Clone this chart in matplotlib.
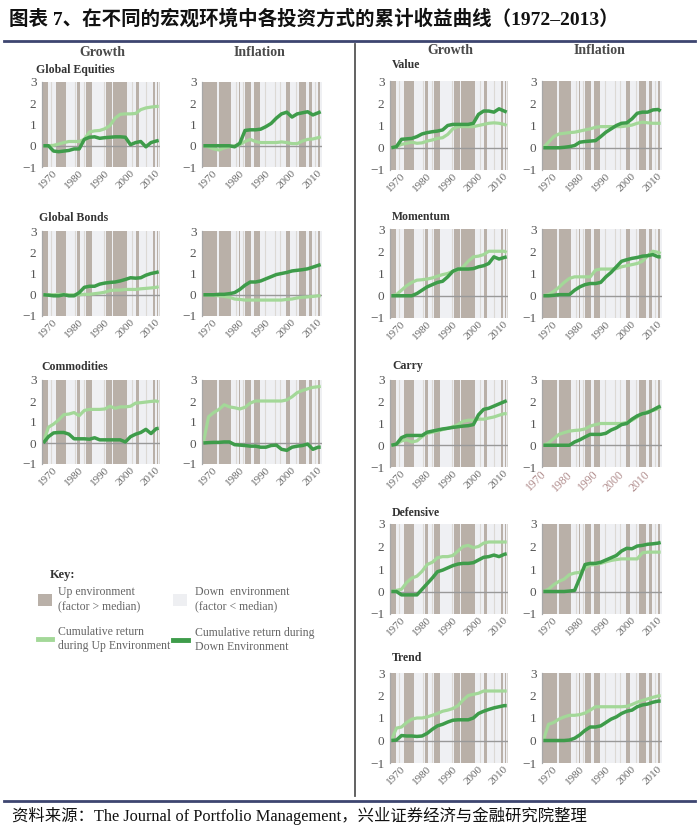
import matplotlib
matplotlib.use("Agg")
import matplotlib.pyplot as plt
from matplotlib.lines import Line2D
from matplotlib.patches import Rectangle

# ---------------- data ----------------
YEARS = [1968, 1970, 1972, 1974, 1976, 1978, 1980, 1982, 1984, 1986, 1988, 1990,
         1992, 1994, 1996, 1998, 2000, 2002, 2004, 2006, 2008, 2010, 2012, 2013]
XTICKS = [1970, 1980, 1990, 2000, 2010]
YTICKS = [-1, 0, 1, 2, 3]
YTICK_LABELS = ["\u22121", "0", "1", "2", "3"]

GROWTH_UP_PERIODS = [(1967.5, 1969.7), (1972.8, 1976.8), (1981.0, 1982.4), (1984.5, 1987.1),
                     (1992.4, 1994.7), (1995.3, 2000.5), (2004.0, 2005.4), (2010.9, 2011.6),
                     (2012.3, 2012.9)]
GROWTH_THIN = [1971.2, 1980.3, 1983.8, 1991.6, 2002.6, 2008.2, 2013.2]
INFLATION_UP_PERIODS = [(1967.5, 1973.2), (1973.9, 1978.7), (1981.5, 1982.1), (1984.0, 1986.2),
                        (1987.3, 1989.9), (1999.7, 2001.3), (2004.7, 2007.3), (2008.6, 2009.5),
                        (2011.9, 2012.8)]
INFLATION_THIN = [1980.5, 1983.2, 1991.5, 1995.5, 1997.5, 2003.5, 2010.7]

# Global Equities
EQ_G_UP = [0, 0, 0.02, 0.08, 0.15, 0.2, 0.2, 0.2, 0.3, 0.65, 0.7, 0.72, 0.8, 0.95, 1.3, 1.48, 1.5, 1.5, 1.52, 1.7, 1.78, 1.82, 1.85, 1.85]
EQ_G_DOWN = [0, 0, -0.25, -0.28, -0.25, -0.22, -0.15, -0.15, 0.3, 0.4, 0.42, 0.35, 0.38, 0.4, 0.42, 0.42, 0.4, 0.05, 0.15, 0.2, -0.05, 0.15, 0.22, 0.25]
EQ_I_UP = [0, -0.05, -0.15, -0.2, -0.1, -0.05, 0, 0.05, 0.2, 0.3, 0.2, 0.15, 0.15, 0.15, 0.15, 0.18, 0.15, 0.1, 0.1, 0.22, 0.3, 0.32, 0.38, 0.42]
EQ_I_DOWN = [0, 0, 0, 0, 0, 0, -0.05, 0.12, 0.72, 0.75, 0.75, 0.78, 0.9, 1.05, 1.3, 1.5, 1.58, 1.35, 1.5, 1.55, 1.6, 1.45, 1.55, 1.6]
# Global Bonds
BD_G_UP = [0, 0, 0, 0.02, 0.02, 0, 0, 0, 0.02, 0.02, 0.05, 0.08, 0.12, 0.2, 0.22, 0.22, 0.25, 0.25, 0.25, 0.28, 0.3, 0.32, 0.35, 0.38]
BD_G_DOWN = [0, -0.02, -0.05, -0.05, 0, -0.05, -0.05, 0.1, 0.35, 0.4, 0.4, 0.5, 0.55, 0.58, 0.6, 0.65, 0.72, 0.8, 0.78, 0.8, 0.92, 1.0, 1.05, 1.08]
BD_I_UP = [0, -0.02, -0.03, -0.05, -0.08, -0.12, -0.2, -0.22, -0.25, -0.25, -0.25, -0.25, -0.25, -0.25, -0.25, -0.25, -0.22, -0.2, -0.15, -0.12, -0.1, -0.08, -0.05, -0.05]
BD_I_DOWN = [0, 0, 0, 0.02, 0.02, 0.05, 0.1, 0.25, 0.45, 0.6, 0.6, 0.65, 0.75, 0.85, 0.95, 1.0, 1.05, 1.12, 1.15, 1.18, 1.22, 1.3, 1.38, 1.42]
# Commodities
CM_G_UP = [0, 0.75, 0.9, 1.1, 1.35, 1.38, 1.45, 1.3, 1.55, 1.6, 1.6, 1.6, 1.62, 1.75, 1.65, 1.72, 1.72, 1.75, 1.9, 1.92, 1.95, 1.98, 2.0, 1.95]
CM_G_DOWN = [0, 0.3, 0.48, 0.5, 0.5, 0.42, 0.2, 0.2, 0.2, 0.18, 0.25, 0.15, 0.15, 0.15, 0.15, 0.15, 0.05, 0.3, 0.42, 0.5, 0.65, 0.45, 0.68, 0.7]
CM_I_UP = [0, 1.25, 1.45, 1.6, 1.82, 1.72, 1.68, 1.62, 1.7, 1.9, 2.0, 2.0, 2.0, 2.0, 2.0, 2.0, 2.05, 2.2, 2.4, 2.5, 2.58, 2.65, 2.68, 2.7]
CM_I_DOWN = [0, 0.02, 0.03, 0.03, 0.05, 0.05, -0.08, -0.1, -0.12, -0.15, -0.15, -0.2, -0.2, -0.12, -0.1, -0.3, -0.35, -0.2, -0.15, -0.12, -0.05, -0.3, -0.2, -0.2]
# Value
VA_G_UP = [0, 0.05, 0.15, 0.2, 0.25, 0.2, 0.22, 0.3, 0.35, 0.42, 0.45, 0.6, 0.85, 0.95, 0.95, 0.95, 0.95, 1.0, 1.05, 1.1, 1.12, 1.1, 1.05, 1.0]
VA_G_DOWN = [0, 0.05, 0.38, 0.4, 0.42, 0.5, 0.62, 0.68, 0.72, 0.75, 0.8, 1.0, 1.05, 1.05, 1.05, 1.05, 1.1, 1.5, 1.65, 1.65, 1.6, 1.75, 1.65, 1.6]
VA_I_UP = [0, 0.25, 0.5, 0.62, 0.65, 0.68, 0.7, 0.75, 0.8, 0.85, 0.92, 0.95, 0.95, 0.95, 0.95, 0.95, 0.98, 1.02, 1.1, 1.15, 1.12, 1.1, 1.1, 1.1]
VA_I_DOWN = [0, 0, 0, 0, 0.02, 0.05, 0.1, 0.25, 0.28, 0.3, 0.32, 0.5, 0.7, 0.85, 1.0, 1.1, 1.12, 1.3, 1.55, 1.6, 1.6, 1.7, 1.72, 1.65]
# Momentum
MO_G_UP = [0, 0.05, 0.25, 0.45, 0.6, 0.7, 0.72, 0.75, 0.8, 0.88, 0.95, 1.0, 1.1, 1.15, 1.3, 1.55, 1.75, 1.78, 1.85, 2.0, 2.0, 2.0, 2.0, 1.95]
MO_G_DOWN = [0, 0, 0, 0, 0, 0.1, 0.25, 0.4, 0.5, 0.6, 0.65, 0.85, 1.1, 1.2, 1.2, 1.2, 1.22, 1.3, 1.35, 1.45, 1.75, 1.65, 1.72, 1.75]
MO_I_UP = [0, 0.05, 0.2, 0.38, 0.6, 0.78, 0.85, 0.85, 0.85, 0.85, 1.15, 1.2, 1.2, 1.2, 1.22, 1.3, 1.35, 1.4, 1.45, 1.55, 1.8, 2.0, 1.95, 1.9]
MO_I_DOWN = [0, 0, 0.02, 0.05, 0.05, 0.05, 0.25, 0.4, 0.5, 0.55, 0.55, 0.6, 0.85, 1.05, 1.3, 1.55, 1.62, 1.68, 1.72, 1.78, 1.8, 1.85, 1.75, 1.75]
# Carry
CA_G_UP = [0, 0.05, 0.2, 0.25, 0.15, 0.2, 0.4, 0.55, 0.6, 0.65, 0.72, 0.78, 0.85, 0.95, 1.1, 1.15, 1.15, 1.2, 1.2, 1.25, 1.3, 1.38, 1.45, 1.45]
CA_G_DOWN = [0, 0.05, 0.35, 0.45, 0.45, 0.45, 0.45, 0.6, 0.65, 0.7, 0.75, 0.78, 0.82, 0.85, 0.88, 0.9, 0.95, 1.4, 1.65, 1.7, 1.8, 1.9, 2.0, 2.05]
CA_I_UP = [0, 0.1, 0.3, 0.5, 0.58, 0.65, 0.68, 0.7, 0.75, 0.88, 0.95, 1.0, 1.0, 1.0, 1.0, 1.0, 1.05, 1.15, 1.3, 1.45, 1.55, 1.6, 1.68, 1.72]
CA_I_DOWN = [0, 0, 0, 0, 0, 0, 0.15, 0.25, 0.38, 0.5, 0.5, 0.5, 0.55, 0.7, 0.8, 0.95, 1.0, 1.2, 1.35, 1.45, 1.5, 1.62, 1.75, 1.8]
# Defensive
DE_G_UP = [0, 0.05, 0.1, 0.4, 0.6, 0.68, 0.9, 1.2, 1.3, 1.5, 1.55, 1.55, 1.6, 1.8, 2.0, 2.05, 1.95, 2.0, 2.15, 2.2, 2.2, 2.2, 2.2, 2.2]
DE_G_DOWN = [0, 0, -0.15, -0.15, -0.15, -0.15, 0.1, 0.35, 0.6, 0.88, 0.95, 1.05, 1.15, 1.22, 1.25, 1.25, 1.28, 1.4, 1.52, 1.55, 1.62, 1.55, 1.65, 1.68]
DE_I_UP = [0, 0.1, 0.3, 0.45, 0.55, 0.75, 0.82, 0.85, 1.05, 1.18, 1.2, 1.25, 1.32, 1.38, 1.42, 1.45, 1.45, 1.45, 1.45, 1.72, 1.75, 1.75, 1.75, 1.75]
DE_I_DOWN = [0, 0, 0, 0, 0, 0.02, 0.05, 0.6, 1.2, 1.25, 1.25, 1.3, 1.4, 1.5, 1.6, 1.8, 1.92, 1.9, 2.02, 2.05, 2.1, 2.12, 2.15, 2.18]
# Trend
TR_G_UP = [0, 0.55, 0.6, 0.8, 0.95, 1.0, 1.0, 1.05, 1.12, 1.2, 1.3, 1.35, 1.42, 1.55, 1.8, 2.0, 2.05, 2.1, 2.2, 2.2, 2.2, 2.2, 2.2, 2.2]
TR_G_DOWN = [0, 0.02, 0.22, 0.2, 0.2, 0.18, 0.2, 0.32, 0.5, 0.65, 0.72, 0.82, 0.9, 0.92, 0.92, 0.92, 1.0, 1.2, 1.3, 1.38, 1.45, 1.5, 1.55, 1.55]
TR_I_UP = [0, 0.72, 0.8, 0.95, 1.05, 1.12, 1.12, 1.15, 1.22, 1.35, 1.5, 1.5, 1.5, 1.5, 1.5, 1.5, 1.52, 1.6, 1.7, 1.78, 1.85, 1.92, 1.98, 2.0]
TR_I_DOWN = [0, 0, 0, 0, 0, 0.02, 0.1, 0.25, 0.45, 0.6, 0.6, 0.65, 0.8, 0.95, 1.05, 1.2, 1.3, 1.35, 1.5, 1.58, 1.62, 1.7, 1.75, 1.75]

PANEL_TITLES = ["Global Equities", "Global Bonds", "Commodities",
                "Value", "Momentum", "Carry", "Defensive", "Trend"]

# ---------------- style / layout ----------------
W, H = 699, 831
fig = plt.figure(figsize=(W / 100, H / 100), dpi=100)
fig.patch.set_facecolor("white")

SERIF = ["Liberation Serif", "DejaVu Serif"]
MIXED = ["Liberation Serif", "Noto Sans CJK SC", "DejaVu Sans"]
UP_SHADE = "#b9b0a8"
DOWN_BG = "#eff0f3"
THIN = "#dcd9d5"
LIGHT_G = "#a3d898"
DARK_G = "#3e9c4a"
RULE = "#3d4570"


def fx(x):
    return x / W


def fy(y):
    return 1 - y / H


def px_axes(x0, y0, x1, y1):
    return fig.add_axes([fx(x0), fy(y1), (x1 - x0) / W, (y1 - y0) / H])


def ftext(x, y, s, **kw):
    fig.text(fx(x), fy(y), s, **kw)


def draw_panel(ax, periods, thin, up, down, xlab_color="#6a6a6a", xlab_size=8, xlab_ha="center"):
    ax.set_facecolor(DOWN_BG)
    for x in thin:
        ax.axvline(x, color=THIN, lw=0.8, zorder=1)
    for a, b in periods:
        ax.axvspan(a, b, color=UP_SHADE, lw=0, zorder=1.5)
    ax.axhline(0, color="#999999", lw=1.0, zorder=2)
    ax.plot(YEARS, up, color=LIGHT_G, lw=2.3, zorder=3, solid_capstyle="butt")
    ax.plot(YEARS, down, color=DARK_G, lw=2.5, zorder=4, solid_capstyle="butt")
    ax.set_xlim(1967.5, 2013.5)
    ax.set_ylim(-1, 3)
    ax.set_yticks(YTICKS)
    ax.set_yticklabels(YTICK_LABELS, fontfamily=SERIF, fontsize=9.5, color="#555555")
    ax.set_xticks(XTICKS)
    ax.set_xticklabels([str(t) for t in XTICKS], rotation=45, ha=xlab_ha,
                       fontfamily=SERIF, fontsize=xlab_size, color=xlab_color)
    ax.tick_params(axis="both", length=0)
    ax.tick_params(axis="y", pad=4)
    ax.tick_params(axis="x", pad=1)
    for s in ["top", "right", "bottom"]:
        ax.spines[s].set_visible(False)
    ax.spines["left"].set_color("#a8a8a8")
    ax.spines["left"].set_linewidth(0.9)
    ax.spines["left"].set_zorder(5)


# rows: (title x, title y, top, bottom) in pixels
LEFT_ROWS = [(36, 70, 82, 167), (39, 218, 231, 316), (41, 367, 380, 464)]
RIGHT_ROWS = [(392, 65, 81, 170), (392, 217, 229, 318), (392, 366, 380, 467),
              (392, 513, 524, 614), (392, 658, 673, 763)]
LEFT_X = [(42, 160), (202, 322)]
RIGHT_X = [(390, 508), (542, 662)]

SERIES = [
    (EQ_G_UP, EQ_G_DOWN, EQ_I_UP, EQ_I_DOWN),
    (BD_G_UP, BD_G_DOWN, BD_I_UP, BD_I_DOWN),
    (CM_G_UP, CM_G_DOWN, CM_I_UP, CM_I_DOWN),
    (VA_G_UP, VA_G_DOWN, VA_I_UP, VA_I_DOWN),
    (MO_G_UP, MO_G_DOWN, MO_I_UP, MO_I_DOWN),
    (CA_G_UP, CA_G_DOWN, CA_I_UP, CA_I_DOWN),
    (DE_G_UP, DE_G_DOWN, DE_I_UP, DE_I_DOWN),
    (TR_G_UP, TR_G_DOWN, TR_I_UP, TR_I_DOWN),
]

rows = [(r, LEFT_X) for r in LEFT_ROWS] + [(r, RIGHT_X) for r in RIGHT_ROWS]
for i, ((tx, ty, top, bot), xs) in enumerate(rows):
    gu, gd, iu, idn = SERIES[i]
    axg = px_axes(xs[0][0], top, xs[0][1], bot)
    draw_panel(axg, GROWTH_UP_PERIODS, GROWTH_THIN, gu, gd)
    axi = px_axes(xs[1][0], top, xs[1][1], bot)
    if PANEL_TITLES[i] == "Carry":
        draw_panel(axi, INFLATION_UP_PERIODS, INFLATION_THIN, iu, idn,
                   xlab_color="#b08c8c", xlab_size=8.5, xlab_ha="right")
    else:
        draw_panel(axi, INFLATION_UP_PERIODS, INFLATION_THIN, iu, idn)
    ftext(tx, ty, PANEL_TITLES[i], fontfamily=SERIF, fontsize=8.5, fontweight="bold",
          color="#333333", va="center", ha="left")

# column headers
for x, y, s in [(102, 52, "Growth"), (259, 52, "Inflation"), (450, 50, "Growth"), (599, 50, "Inflation")]:
    ftext(x, y, s, fontfamily=SERIF, fontsize=10, fontweight="bold", color="#4a4a4a",
          ha="center", va="center")

# title
ftext(9, 19, "图表 7、在不同的宏观环境中各投资方式的累计收益曲线（1972\u20132013）",
      fontfamily=MIXED, fontsize=14, fontweight="bold", color="#111111", ha="left", va="center")
fig.add_artist(Line2D([fx(4), fx(695)], [fy(41), fy(41)], transform=fig.transFigure, color=RULE, lw=2))
# vertical separator
fig.add_artist(Line2D([fx(355), fx(355)], [fy(44), fy(796)], transform=fig.transFigure, color="#555555", lw=1.3))
# footer
fig.add_artist(Line2D([fx(4), fx(695)], [fy(801), fy(801)], transform=fig.transFigure, color=RULE, lw=2))
ftext(12, 816, "资料来源：The Journal of Portfolio Management，兴业证券经济与金融研究院整理",
      fontfamily=MIXED, fontsize=11.8, color="#111111", ha="left", va="center")

# key
KEY_COLOR = "#666666"
ftext(50, 575, "Key:", fontfamily=SERIF, fontsize=9, fontweight="bold", color="#333333", va="center")
fig.add_artist(Rectangle((fx(38), fy(606)), 14 / W, 12 / H, transform=fig.transFigure,
                         facecolor=UP_SHADE, edgecolor="none"))
fig.add_artist(Rectangle((fx(173), fy(606)), 14 / W, 12 / H, transform=fig.transFigure,
                         facecolor="#eeeff2", edgecolor="none"))
fig.add_artist(Line2D([fx(38), fx(52)], [fy(639), fy(639)], transform=fig.transFigure, color=LIGHT_G, lw=3.5))
fig.add_artist(Line2D([fx(173), fx(188)], [fy(640), fy(640)], transform=fig.transFigure, color=DARK_G, lw=3.5))
ftext(58, 599, "Up environment\n(factor > median)", fontfamily=SERIF, fontsize=8.5, color=KEY_COLOR,
      va="center", linespacing=1.25)
ftext(195, 599, "Down  environment\n(factor < median)", fontfamily=SERIF, fontsize=8.5, color=KEY_COLOR,
      va="center", linespacing=1.25)
ftext(58, 639, "Cumulative return\nduring Up Environment", fontfamily=SERIF, fontsize=8.5, color=KEY_COLOR,
      va="center", linespacing=1.25)
ftext(195, 640, "Cumulative return during\nDown Environment", fontfamily=SERIF, fontsize=8.5, color=KEY_COLOR,
      va="center", linespacing=1.25)

fig.savefig("out.png", dpi=100)
